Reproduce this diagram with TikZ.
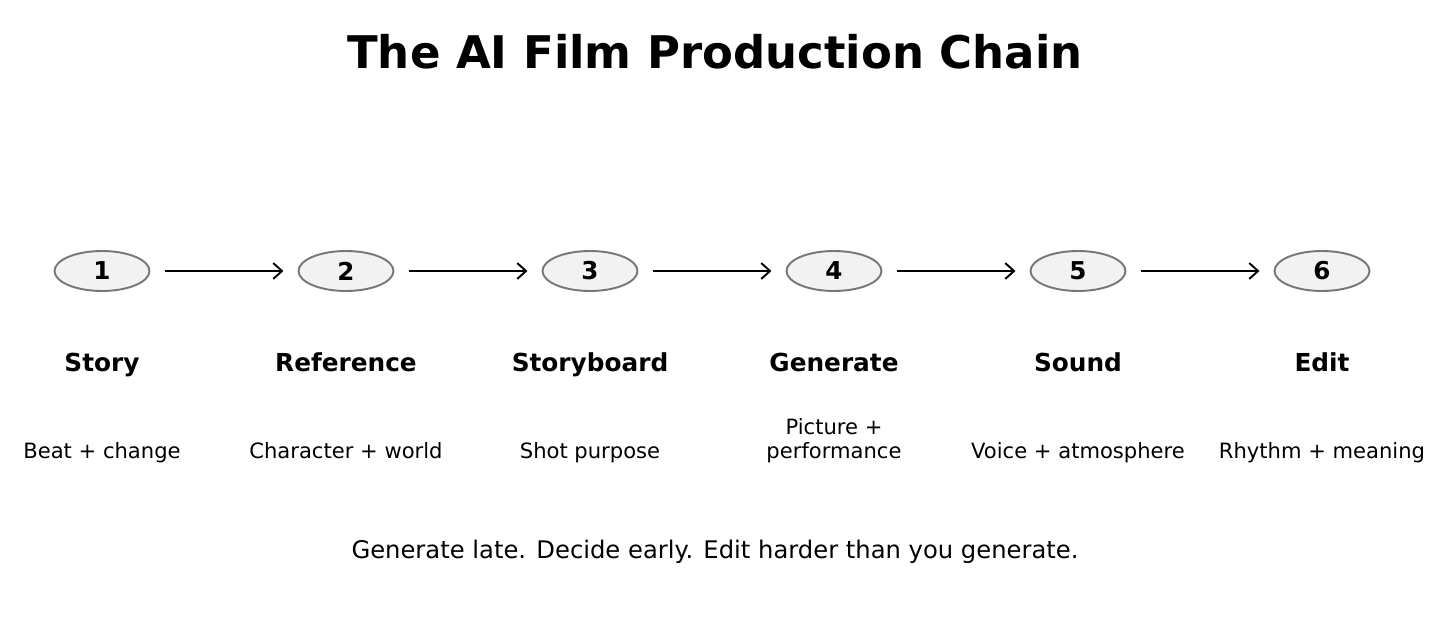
\documentclass[tikz,border=0pt]{standalone}
\usepackage{fontspec}
\setmainfont{DejaVu Sans}
\usetikzlibrary{arrows.meta,shapes.geometric}
\definecolor{stepfill}{HTML}{F2F2F2}
\definecolor{stepline}{HTML}{777777}
\tikzset{
  stage/.style={ellipse,draw=stepline,line width=1.1pt,fill=stepfill,
    minimum width=1.9cm,minimum height=0.8cm,inner sep=0pt,font=\fontsize{14}{16}\selectfont\bfseries},
  flow/.style={line width=1.1pt,-{Straight Barb[length=5pt,width=9pt]},shorten <=8pt,shorten >=8pt},
  stagename/.style={font=\fontsize{14.1}{16}\selectfont\bfseries,anchor=base},
  stagetext/.style={font=\fontsize{12}{13.2}\selectfont,align=center,anchor=base}
}
\begin{document}
\begin{tikzpicture}[x=0.02cm,y=-0.02cm]
   \useasboundingbox (0,0) rectangle (1443,625);
   \node [font=\fontsize{25.6}{30}\selectfont\bfseries] (title) at (715,52) {The AI Film Production Chain};
   \foreach \n/\x/\lab/\txt in {1/102/Story/Beat + change,
                                2/346/Reference/Character + world,
                                3/590/Storyboard/Shot purpose,
                                4/834/Generate/{Picture +\\performance},
                                5/1078/Sound/Voice + atmosphere,
                                6/1322/Edit/Rhythm + meaning} {
     \node [stage] (s\n) at (\x,271) {\n};
     \node [stagename] (l\n) at (\x,371) {\lab};
     \node [stagetext] (d\n) at (\x,458) {\txt};
   }
   \foreach \a/\b in {1/2,2/3,3/4,4/5,5/6}
     \draw [flow] (s\a.east) -- (s\b.west);
   \node [font=\fontsize{13.8}{16}\selectfont] (motto) at (715,552) {Generate late. Decide early. Edit harder than you generate.};
\end{tikzpicture}
\end{document}
